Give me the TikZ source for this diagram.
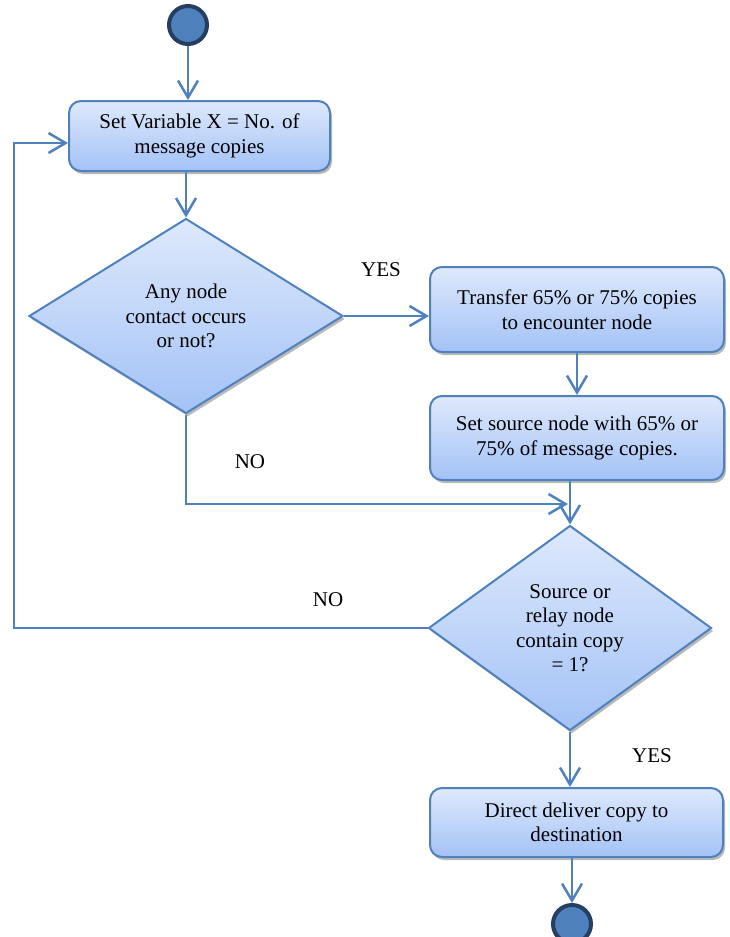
\documentclass[tikz,border=0pt]{standalone}
\usepackage{fontspec}
\setmainfont{Liberation Serif}
\usetikzlibrary{shapes.geometric,arrows.meta,shadows}
\definecolor{linecol}{RGB}{79,129,189}
\definecolor{boxtop}{RGB}{222,233,252}
\definecolor{boxbot}{RGB}{163,194,246}
\definecolor{ringcol}{RGB}{36,63,96}
\begin{document}
\begin{tikzpicture}[x=1pt,y=-1pt]
        \useasboundingbox (0,0) rectangle (729,937);

        \begin{scope}[every node/.style={circle, draw=ringcol, line width=4pt, fill=linecol, minimum size=38pt, inner sep=0pt}]
          \node (s) at (188,25)  {};
          \node (e) at (572,924) {};
        \end{scope}

        \begin{scope}[every node/.style={draw=linecol, line width=2pt, top color=boxtop, bottom color=boxbot,
            drop shadow={shadow xshift=2pt, shadow yshift=-3pt, fill=black!50, opacity=.55},
            align=center, inner sep=0pt, font=\fontsize{21}{24.5}\selectfont}]
          \node[rectangle, rounded corners=12pt, minimum width=261pt, minimum height=70pt] (b1) at (199.5,136) {Set Variable X = No. of\\message copies};
          \node[rectangle, rounded corners=12pt, minimum width=294pt, minimum height=85pt] (b2) at (577,309.5) {Transfer 65\% or 75\% copies\\to encounter node};
          \node[rectangle, rounded corners=12pt, minimum width=294pt, minimum height=84pt] (b3) at (577,438) {Set source node with 65\% or\\75\% of message copies.};
          \node[rectangle, rounded corners=12pt, minimum width=293pt, minimum height=69pt] (b4) at (576.5,822.5) {Direct deliver copy to\\destination};
          \node[diamond, aspect=1.6, minimum width=314pt, minimum height=195pt] (d1) at (186,316) {Any node\\contact occurs\\or not?};
          \node[diamond, aspect=1.4, minimum width=283pt, minimum height=205pt] (d2) at (570,628) {\raisebox{-4pt}{\parbox{120pt}{\centering Source or\\relay node\\contain copy\\= 1?}}};
        \end{scope}

        \begin{scope}[every node/.style={font=\fontsize{21}{24.5}\selectfont}]
          \node (yes1) at (381,270) {YES};
          \node (no1)  at (250,462) {NO};
          \node (no2)  at (328,600) {NO};
          \node (yes2) at (652,756) {YES};
        \end{scope}

        \coordinate (j) at (568,504);
        \coordinate (l) at (14,143);

        \begin{scope}[every edge/.style={draw=linecol, line width=2.5pt, -{Straight Barb[length=17pt,width=20pt]}}]
          \path (s)  edge (s |- b1.north);
          \path (d1.north |- b1.south)  edge (d1);
          \path (d1.east)  edge (d1.east -| b2.west);
          \path (b2)  edge (b3);
          \path (d2 |- b3.south)  edge (d2);
          \path (d2)  edge (d2 |- b4.north);
          \path (e |- b4.south)  edge (e);
        \end{scope}

        \begin{scope}[draw=linecol, line width=2.5pt, -{Straight Barb[length=17pt,width=20pt]}]
          \draw (d1.south) |- (j);
          \draw (d2.west) -| (l) -- (b1.west |- l);
        \end{scope}

      \end{tikzpicture}
\end{document}
